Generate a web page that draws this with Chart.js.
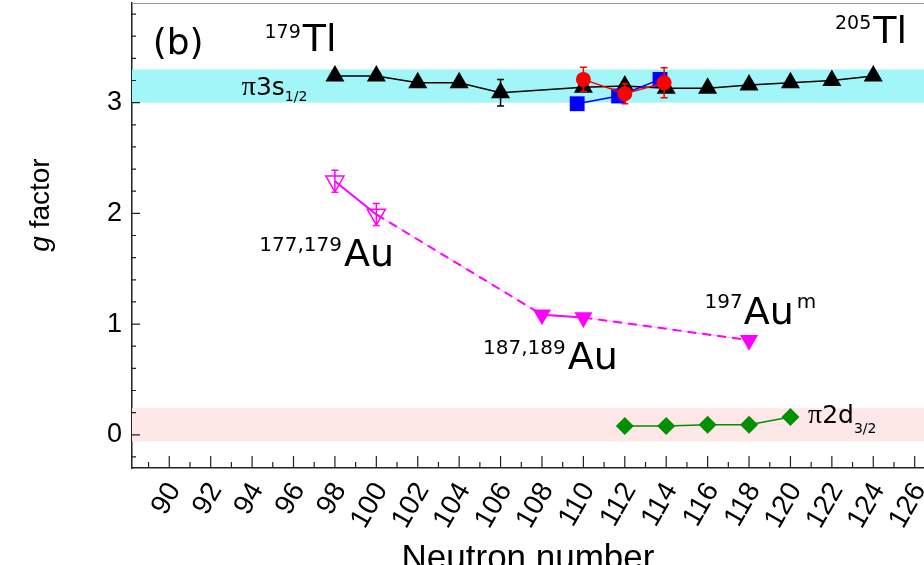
<!DOCTYPE html>
<html>
<head>
<meta charset="utf-8">
<script src="https://cdn.jsdelivr.net/npm/chart.js@4.4.1/dist/chart.umd.min.js"></script>
<style>
  html, body { margin: 0; padding: 0; background: #fff; }
  #wrap { width: 924px; height: 565px; }
</style>
</head>
<body>
<div id="wrap"><canvas id="chart" width="924" height="565"></canvas></div>
<script>
// tick labels
const xTicks = [90, 92, 94, 96, 98, 100, 102, 104, 106, 108, 110, 112, 114, 116, 118, 120, 122, 124, 126];
const yTicks = [0, 1, 2, 3];

// Tl isotopes (black triangles)
const tlN = [98, 100, 102, 104, 106, 110, 112, 114, 116, 118, 120, 122, 124];
const tlG = [3.24, 3.24, 3.18, 3.18, 3.09, 3.14, 3.15, 3.13, 3.13, 3.16, 3.18, 3.20, 3.24];
const tlErr = [0, 0, 0, 0, 0.12, 0, 0, 0, 0, 0, 0, 0, 0];

// red circles
const redN = [110, 112, 113.9];
const redG = [3.21, 3.08, 3.18];
const redErr = [0.11, 0.09, 0.135];

// blue squares
const blueN = [109.7, 111.7, 113.7];
const blueG = [2.99, 3.06, 3.21];

// Au (open down triangles, then filled)
const auOpenN = [98, 100];
const auOpenG = [2.29, 1.99];
const auOpenErr = [0.1, 0.1];
const auN = [108, 110, 118];
const auG = [1.085, 1.06, 0.855];

// pi 2d3/2 (green diamonds)
const d32N = [112, 114, 116, 118, 120];
const d32G = [0.08, 0.08, 0.09, 0.09, 0.16];

// shaded bands: pi3s1/2 and pi2d3/2
const bandFrom = [3.0, -0.06];
const bandTo = [3.3, 0.24];

const SANS = "'Liberation Sans', Arial, sans-serif";
const NOTE = "'DejaVu Sans', Verdana, sans-serif";
const SERIF = "'Liberation Serif', 'Times New Roman', serif";

function pts(xs, ys) {
  return xs.map((x, i) => ({ x: x, y: ys[i] }));
}

// text notes on the plot: [text, size, dy, family, gapBefore]
const notes = [
  { n: 89.2, g: 3.44, parts: [['(b)', 36]] },
  { n: 94.6, g: 3.47, parts: [['179', 19, -13], ['Tl', 38, 0, null, 2]] },
  { n: 122.15, g: 3.54, parts: [['205', 19, -14], ['Tl', 38, 0, null, 2]] },
  { n: 93.5, g: 3.07, parts: [['π', 28, 0, SERIF], ['3s', 25], ['1/2', 14, 6]] },
  { n: 94.35, g: 1.527, parts: [['177,179', 20, -15], ['Au', 38, 0, null, 2]] },
  { n: 105.15, g: 0.596, parts: [['187,189', 20, -15], ['Au', 38, 0, null, 2]] },
  { n: 115.85, g: 1.003, parts: [['197', 20, -16], ['Au', 38, 0, null, 1], ['m', 20, -16, null, 3]] },
  { n: 120.85, g: 0.108, parts: [['π', 28, 0, SERIF], ['2d', 25], ['3/2', 14, 10]] }
];

function drawRich(ctx, x, y, parts) {
  let cx = x;
  parts.forEach(p => {
    const [text, size, dy, fam, gap] = p;
    cx += gap || 0;
    ctx.font = size + 'px ' + (fam || NOTE);
    ctx.fillText(text, cx, y + (dy || 0));
    cx += ctx.measureText(text).width;
  });
}

const bandsPlugin = {
  id: 'bands',
  beforeDatasetsDraw(chart) {
    const { ctx, chartArea: a, scales: { y } } = chart;
    const colors = ['#a2f6f8', '#fde7e7'];
    ctx.save();
    bandFrom.forEach((from, i) => {
      const top = y.getPixelForValue(bandTo[i]);
      const bot = y.getPixelForValue(from);
      ctx.fillStyle = colors[i];
      ctx.fillRect(a.left, top, a.right - a.left, bot - top);
    });
    ctx.restore();
  }
};

const extrasPlugin = {
  id: 'extras',
  afterDatasetsDraw(chart) {
    const { ctx, chartArea: a, scales: { x, y } } = chart;
    ctx.save();

    // error bars
    chart.data.datasets.forEach((ds, i) => {
      if (!ds.errorBars) return;
      const meta = chart.getDatasetMeta(i);
      ctx.strokeStyle = ds.borderColor;
      ctx.lineWidth = 1.5;
      meta.data.forEach((pt, j) => {
        const e = ds.errorBars[j];
        if (!e) return;
        const v = ds.data[j].y;
        const y1 = y.getPixelForValue(v + e);
        const y2 = y.getPixelForValue(v - e);
        ctx.beginPath();
        ctx.moveTo(pt.x, y1); ctx.lineTo(pt.x, y2);
        ctx.moveTo(pt.x - 3.5, y1); ctx.lineTo(pt.x + 3.5, y1);
        ctx.moveTo(pt.x - 3.5, y2); ctx.lineTo(pt.x + 3.5, y2);
        ctx.stroke();
      });
    });

    // inward ticks
    ctx.strokeStyle = '#222';
    ctx.lineWidth = 1.2;
    ctx.beginPath();
    for (let v = 89; v <= 127; v++) {
      const px = x.getPixelForValue(v);
      if (px < a.left || px > a.right) continue;
      const len = v % 2 === 0 ? 12 : 6;
      ctx.moveTo(px, a.bottom); ctx.lineTo(px, a.bottom - len);
    }
    for (let k = -1; k <= 19; k++) {
      const v = k * 0.2;
      const py = y.getPixelForValue(v);
      const len = k % 5 === 0 ? 8 : 4;
      ctx.moveTo(a.left, py); ctx.lineTo(a.left + len, py);
    }
    ctx.stroke();

    // top frame
    ctx.strokeStyle = '#999';
    ctx.lineWidth = 1;
    ctx.beginPath();
    ctx.moveTo(a.left, a.top + 0.5); ctx.lineTo(a.right, a.top + 0.5);
    ctx.stroke();

    // notes
    ctx.fillStyle = '#000';
    ctx.textAlign = 'left';
    ctx.textBaseline = 'alphabetic';
    notes.forEach(nt => {
      drawRich(ctx, x.getPixelForValue(nt.n), y.getPixelForValue(nt.g), nt.parts);
    });

    // y axis title
    ctx.translate(41, 205);
    ctx.rotate(-Math.PI / 2);
    ctx.font = 'italic 28px ' + SANS;
    const w1 = ctx.measureText('g').width;
    ctx.font = '28px ' + SANS;
    const w2 = ctx.measureText(' factor').width;
    ctx.textBaseline = 'middle';
    ctx.font = 'italic 28px ' + SANS;
    ctx.fillText('g', -(w1 + w2) / 2, 0);
    ctx.font = '28px ' + SANS;
    ctx.fillText(' factor', -(w1 + w2) / 2 + w1, 0);
    ctx.restore();
  }
};

const auAllN = auOpenN.concat(auN);
const auAllG = auOpenG.concat(auG);

new Chart(document.getElementById('chart'), {
  type: 'scatter',
  data: {
    datasets: [
      {
        label: 'red',
        data: pts(redN, redG),
        errorBars: redErr,
        showLine: true,
        borderColor: '#ff0000',
        backgroundColor: '#ff0000',
        borderWidth: 1.5,
        pointStyle: 'circle',
        pointRadius: 7.5,
        pointBorderWidth: 0
      },
      {
        label: 'blue',
        data: pts(blueN, blueG),
        showLine: true,
        borderColor: '#0000ff',
        backgroundColor: '#0000ff',
        borderWidth: 1.5,
        pointStyle: 'rect',
        pointRadius: 10.5,
        pointBorderWidth: 0
      },
      {
        label: 'Tl',
        data: pts(tlN, tlG),
        errorBars: tlErr,
        showLine: true,
        borderColor: '#000000',
        backgroundColor: '#000000',
        borderWidth: 1.5,
        pointStyle: 'triangle',
        pointRadius: 11,
        pointBorderWidth: 0
      },
      {
        label: 'Au',
        data: pts(auN, auG),
        showLine: false,
        borderColor: '#ff00ff',
        backgroundColor: '#ff00ff',
        pointStyle: 'triangle',
        pointRotation: 180,
        pointRadius: 10.5,
        pointBorderWidth: 0
      },
      {
        label: 'Au open',
        data: pts(auOpenN, auOpenG),
        errorBars: auOpenErr,
        showLine: false,
        borderColor: '#ff00ff',
        backgroundColor: 'rgba(0,0,0,0)',
        pointStyle: 'triangle',
        pointRotation: 180,
        pointRadius: 10.5,
        pointBorderWidth: 1.5
      },
      {
        label: 'Au line',
        data: pts(auAllN, auAllG),
        showLine: true,
        borderColor: '#ff00ff',
        borderWidth: 2,
        pointRadius: 0,
        segment: {
          borderDash: c => (c.p1.parsed.x - c.p0.parsed.x > 2 ? [9, 6] : undefined)
        }
      },
      {
        label: 'Au faint',
        data: pts(auAllN, auAllG),
        showLine: true,
        borderColor: 'rgba(255,0,255,0.3)',
        borderWidth: 1,
        pointRadius: 0
      },
      {
        label: 'pi2d3/2',
        data: pts(d32N, d32G),
        showLine: true,
        borderColor: '#009000',
        backgroundColor: '#009000',
        borderWidth: 1.5,
        pointStyle: 'rectRot',
        pointRadius: 9,
        pointBorderWidth: 0
      }
    ]
  },
  options: {
    responsive: false,
    animation: false,
    events: [],
    layout: { autoPadding: false, padding: { top: 3, right: 0, left: 0, bottom: 0 } },
    plugins: {
      legend: { display: false },
      tooltip: { enabled: false }
    },
    scales: {
      x: {
        type: 'linear',
        min: 88.2,
        max: 126.45,
        afterBuildTicks: s => { s.ticks = xTicks.map(v => ({ value: v })); },
        afterFit: s => { s.height = 97; s.paddingLeft = 0; s.paddingRight = 0; },
        ticks: {
          autoSkip: false,
          minRotation: 60,
          maxRotation: 60,
          padding: 9,
          labelOffset: 5,
          color: '#000',
          font: { family: SANS, size: 28 }
        },
        grid: { display: false, drawTicks: false },
        border: { display: true, color: '#222', width: 1.5 },
        title: {
          display: true,
          text: 'Neutron number',
          color: '#000',
          font: { family: SANS, size: 35, lineHeight: 1 },
          padding: { top: 0, bottom: -12 }
        }
      },
      y: {
        min: -0.3,
        max: 3.9,
        afterBuildTicks: s => { s.ticks = yTicks.map(v => ({ value: v })); },
        afterFit: s => { s.width = 132; s.paddingTop = 0; s.paddingBottom = 0; },
        ticks: {
          padding: 10,
          color: '#000',
          font: { family: SANS, size: 27 }
        },
        grid: { display: false, drawTicks: false },
        border: { display: true, color: '#222', width: 1.5 }
      }
    }
  },
  plugins: [bandsPlugin, extrasPlugin]
});
</script>
</body>
</html>
